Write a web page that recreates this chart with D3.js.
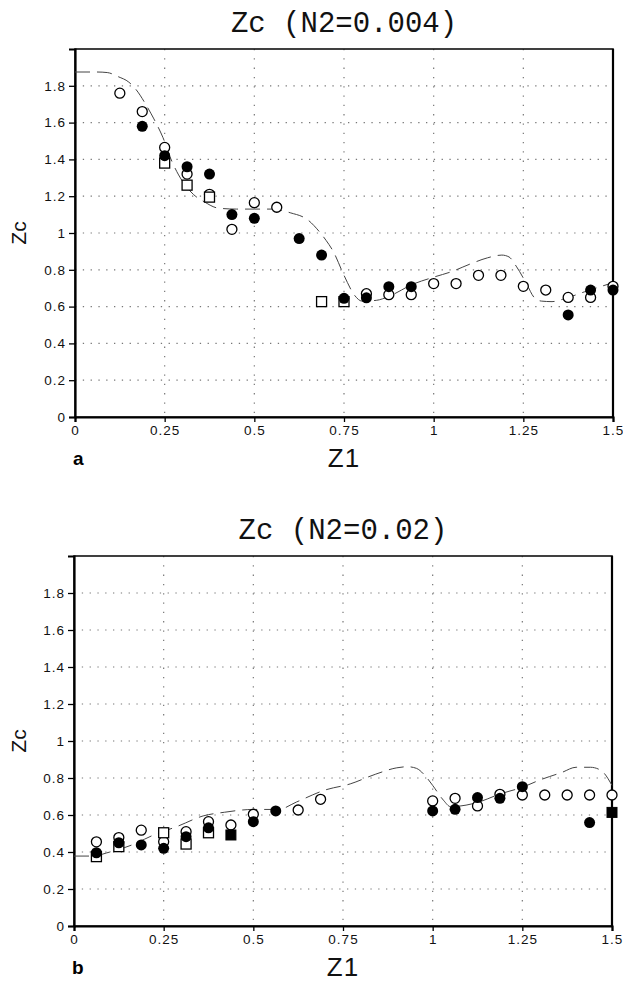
<!DOCTYPE html>
<html>
<head>
<meta charset="utf-8">
<script src="https://cdn.jsdelivr.net/npm/d3@7"></script>
<style>
  body { margin: 0; background: #fff; }
  svg { display: block; }
</style>
</head>
<body>
<div class="container"></div>
<script>
const w = 623;
const h = 984;

const xTicks = [0, 0.25, 0.5, 0.75, 1, 1.25, 1.5];
const xTickLabels = ['0', '0.25', '0.5', '0.75', '1', '1.25', '1.5'];
const yTicks = [0, 0.2, 0.4, 0.6, 0.8, 1, 1.2, 1.4, 1.6, 1.8];
const yTickLabels = ['0', '0.2', '0.4', '0.6', '0.8', '1', '1.2', '1.4', '1.6', '1.8'];

// panel a, N2=0.004
const aOpenCircles = [
  [0.125, 1.76], [0.1875, 1.66], [0.25, 1.465], [0.3125, 1.32], [0.375, 1.21],
  [0.4375, 1.02], [0.5, 1.165], [0.5625, 1.14], [0.8125, 0.67], [0.875, 0.665],
  [0.9375, 0.665], [1.0, 0.725], [1.0625, 0.725], [1.125, 0.77], [1.1875, 0.77],
  [1.25, 0.71], [1.3125, 0.69], [1.375, 0.65], [1.4375, 0.65], [1.5, 0.71]
];
const aFilledCircles = [
  [0.1875, 1.58], [0.25, 1.42], [0.3125, 1.36], [0.375, 1.32], [0.4375, 1.1],
  [0.5, 1.08], [0.625, 0.97], [0.6875, 0.88], [0.75, 0.645], [0.8125, 0.648],
  [0.875, 0.708], [0.9375, 0.708], [1.375, 0.555], [1.4375, 0.69], [1.5, 0.69]
];
const aOpenSquares = [
  [0.25, 1.38], [0.3125, 1.26], [0.375, 1.195], [0.6875, 0.627], [0.75, 0.627]
];
const aFilledSquares = [];
const aModel = [
  [0, 1.875], [0.06, 1.875], [0.09, 1.872], [0.12, 1.85], [0.15, 1.82], [0.17, 1.78],
  [0.2, 1.69], [0.22, 1.62], [0.245, 1.52], [0.27, 1.39], [0.3, 1.28], [0.33, 1.21],
  [0.36, 1.17], [0.4, 1.135], [0.45, 1.13], [0.5, 1.13], [0.55, 1.13], [0.6, 1.11],
  [0.65, 1.07], [0.68, 1.01], [0.7, 0.96], [0.72, 0.9], [0.75, 0.77], [0.78, 0.66],
  [0.8, 0.63], [0.84, 0.634], [0.88, 0.66], [0.94, 0.72], [1.0, 0.76], [1.05, 0.79],
  [1.1, 0.83], [1.15, 0.865], [1.19, 0.88], [1.21, 0.87], [1.23, 0.82], [1.26, 0.72],
  [1.28, 0.65], [1.3, 0.63], [1.33, 0.627], [1.36, 0.64], [1.42, 0.68], [1.5, 0.73]
];

// panel b, N2=0.02
const bOpenCircles = [
  [0.0625, 0.455], [0.125, 0.478], [0.1875, 0.518], [0.25, 0.456], [0.3125, 0.51],
  [0.375, 0.564], [0.4375, 0.546], [0.5, 0.604], [0.625, 0.627], [0.6875, 0.685],
  [1.0, 0.676], [1.0625, 0.69], [1.125, 0.649], [1.1875, 0.712], [1.25, 0.708],
  [1.3125, 0.708], [1.375, 0.708], [1.4375, 0.708], [1.5, 0.708]
];
const bFilledCircles = [
  [0.0625, 0.396], [0.125, 0.45], [0.1875, 0.438], [0.25, 0.42], [0.3125, 0.483],
  [0.375, 0.531], [0.5, 0.564], [0.5625, 0.622], [1.0, 0.622], [1.0625, 0.631],
  [1.125, 0.694], [1.1875, 0.69], [1.25, 0.753], [1.4375, 0.559]
];
const bOpenSquares = [
  [0.0625, 0.375], [0.125, 0.429], [0.25, 0.504], [0.3125, 0.443], [0.375, 0.504]
];
const bFilledSquares = [[0.4375, 0.492], [1.5, 0.614]];
const bModel = [
  [0, 0.378], [0.05, 0.378], [0.1, 0.4], [0.16, 0.437], [0.22, 0.49], [0.29, 0.54],
  [0.36, 0.595], [0.42, 0.615], [0.5, 0.63], [0.57, 0.63], [0.62, 0.67], [0.7, 0.735],
  [0.77, 0.768], [0.84, 0.82], [0.9, 0.855], [0.93, 0.861], [0.955, 0.852], [0.98, 0.81],
  [1.0, 0.76], [1.03, 0.68], [1.05, 0.645], [1.12, 0.665], [1.19, 0.715], [1.25, 0.75],
  [1.3, 0.79], [1.36, 0.83], [1.4, 0.858], [1.44, 0.858], [1.47, 0.84], [1.5, 0.76]
];

let svg = null;

window.onload = function () {
  svg = d3.select('.container').append('svg').attr('width', w).attr('height', h);
  drawPanel({
    top: 49, bottom: 417, left: 75, right: 613,
    title: 'Zc (N2=0.004)', letter: 'a',
    openC: aOpenCircles, fillC: aFilledCircles, openS: aOpenSquares, fillS: aFilledSquares,
    model: aModel
  });
  drawPanel({
    top: 556, bottom: 926, left: 74, right: 612,
    title: 'Zc (N2=0.02)', letter: 'b',
    openC: bOpenCircles, fillC: bFilledCircles, openS: bOpenSquares, fillS: bFilledSquares,
    model: bModel
  });
};

function drawPanel(p) {
  const x = d3.scaleLinear().domain([0, 1.5]).range([p.left, p.right]);
  const y = d3.scaleLinear().domain([0, 2]).range([p.bottom, p.top]);
  const g = svg.append('g');

  // grid
  g.append('g').selectAll('line')
    .data(yTicks.slice(1))
    .enter().append('line')
    .attr('x1', p.left).attr('x2', p.right)
    .attr('y1', (d) => y(d)).attr('y2', (d) => y(d))
    .attr('stroke', '#777').attr('stroke-width', 1.2).attr('stroke-dasharray', '1.3,6.5');
  g.append('g').selectAll('line')
    .data(xTicks.slice(1, -1))
    .enter().append('line')
    .attr('x1', (d) => x(d)).attr('x2', (d) => x(d))
    .attr('y1', p.top).attr('y2', p.bottom)
    .attr('stroke', '#777').attr('stroke-width', 1.2).attr('stroke-dasharray', '1.3,8');

  // frame
  g.append('rect')
    .attr('x', p.left).attr('y', p.top)
    .attr('width', p.right - p.left).attr('height', p.bottom - p.top)
    .attr('fill', 'none').attr('stroke', '#111').attr('stroke-width', 1.6);

  // axes
  const xAxis = d3.axisBottom(x).tickValues(xTicks)
    .tickFormat((d, i) => xTickLabels[i]).tickSize(5).tickPadding(3);
  const yAxis = d3.axisLeft(y).tickValues(yTicks)
    .tickFormat((d, i) => yTickLabels[i]).tickSize(6).tickPadding(3);
  const gx = g.append('g').attr('transform', `translate(0,${p.bottom})`).call(xAxis);
  const gy = g.append('g').attr('transform', `translate(${p.left},0)`).call(yAxis);
  [gx, gy].forEach((a) => {
    a.select('.domain').attr('stroke', '#000').attr('stroke-width', 2.2);
    a.selectAll('.tick line').attr('stroke', '#000').attr('stroke-width', 1.3);
    a.selectAll('.tick text')
      .attr('font-family', 'Liberation Sans, Arial, sans-serif')
      .attr('font-size', 13.5).attr('letter-spacing', 1).attr('fill', '#111');
  });
  g.append('line')
    .attr('x1', p.right).attr('x2', p.right).attr('y1', p.top).attr('y2', p.bottom)
    .attr('stroke', '#000').attr('stroke-width', 2.2);

  // model curve
  const line = d3.line()
    .x((d) => x(d[0])).y((d) => y(d[1]))
    .curve(d3.curveMonotoneX);
  g.append('path')
    .datum(p.model)
    .attr('d', line)
    .attr('fill', 'none').attr('stroke', '#444').attr('stroke-width', 1)
    .attr('stroke-dasharray', '15,7');

  // markers
  const r = 5;
  const s = 10;
  g.append('g').selectAll('circle').data(p.openC).enter().append('circle')
    .attr('cx', (d) => x(d[0])).attr('cy', (d) => y(d[1])).attr('r', r)
    .attr('fill', '#fff').attr('stroke', '#000').attr('stroke-width', 1.3);
  g.append('g').selectAll('rect').data(p.openS).enter().append('rect')
    .attr('x', (d) => x(d[0]) - s / 2).attr('y', (d) => y(d[1]) - s / 2)
    .attr('width', s).attr('height', s)
    .attr('fill', '#fff').attr('stroke', '#000').attr('stroke-width', 1.3);
  g.append('g').selectAll('rect').data(p.fillS).enter().append('rect')
    .attr('x', (d) => x(d[0]) - s / 2).attr('y', (d) => y(d[1]) - s / 2)
    .attr('width', s).attr('height', s)
    .attr('fill', '#000').attr('stroke', '#000').attr('stroke-width', 1);
  g.append('g').selectAll('circle').data(p.fillC).enter().append('circle')
    .attr('cx', (d) => x(d[0])).attr('cy', (d) => y(d[1])).attr('r', r + 0.5)
    .attr('fill', '#000');

  // titles and labels
  const mid = (p.left + p.right) / 2;
  g.append('text').text(p.title)
    .attr('x', mid).attr('y', p.top - 17)
    .attr('text-anchor', 'middle')
    .attr('font-family', 'Liberation Mono, monospace')
    .attr('font-size', 29).attr('fill', '#111');
  g.append('text').text('Zc')
    .attr('transform', `translate(26,${y(1)}) rotate(-90)`)
    .attr('text-anchor', 'middle')
    .attr('font-family', 'Liberation Sans, Arial, sans-serif')
    .attr('font-size', 21).attr('fill', '#111');
  g.append('text').text('Z1')
    .attr('x', mid).attr('y', p.bottom + 50)
    .attr('text-anchor', 'middle')
    .attr('font-family', 'Liberation Sans, Arial, sans-serif')
    .attr('font-size', 26).attr('letter-spacing', 1).attr('fill', '#111');
  g.append('text').text(p.letter)
    .attr('x', p.left - 2).attr('y', p.bottom + 48)
    .attr('font-family', 'Liberation Sans, Arial, sans-serif')
    .attr('font-size', 19).attr('font-weight', 'bold').attr('fill', '#000');
}
</script>
</body>
</html>
